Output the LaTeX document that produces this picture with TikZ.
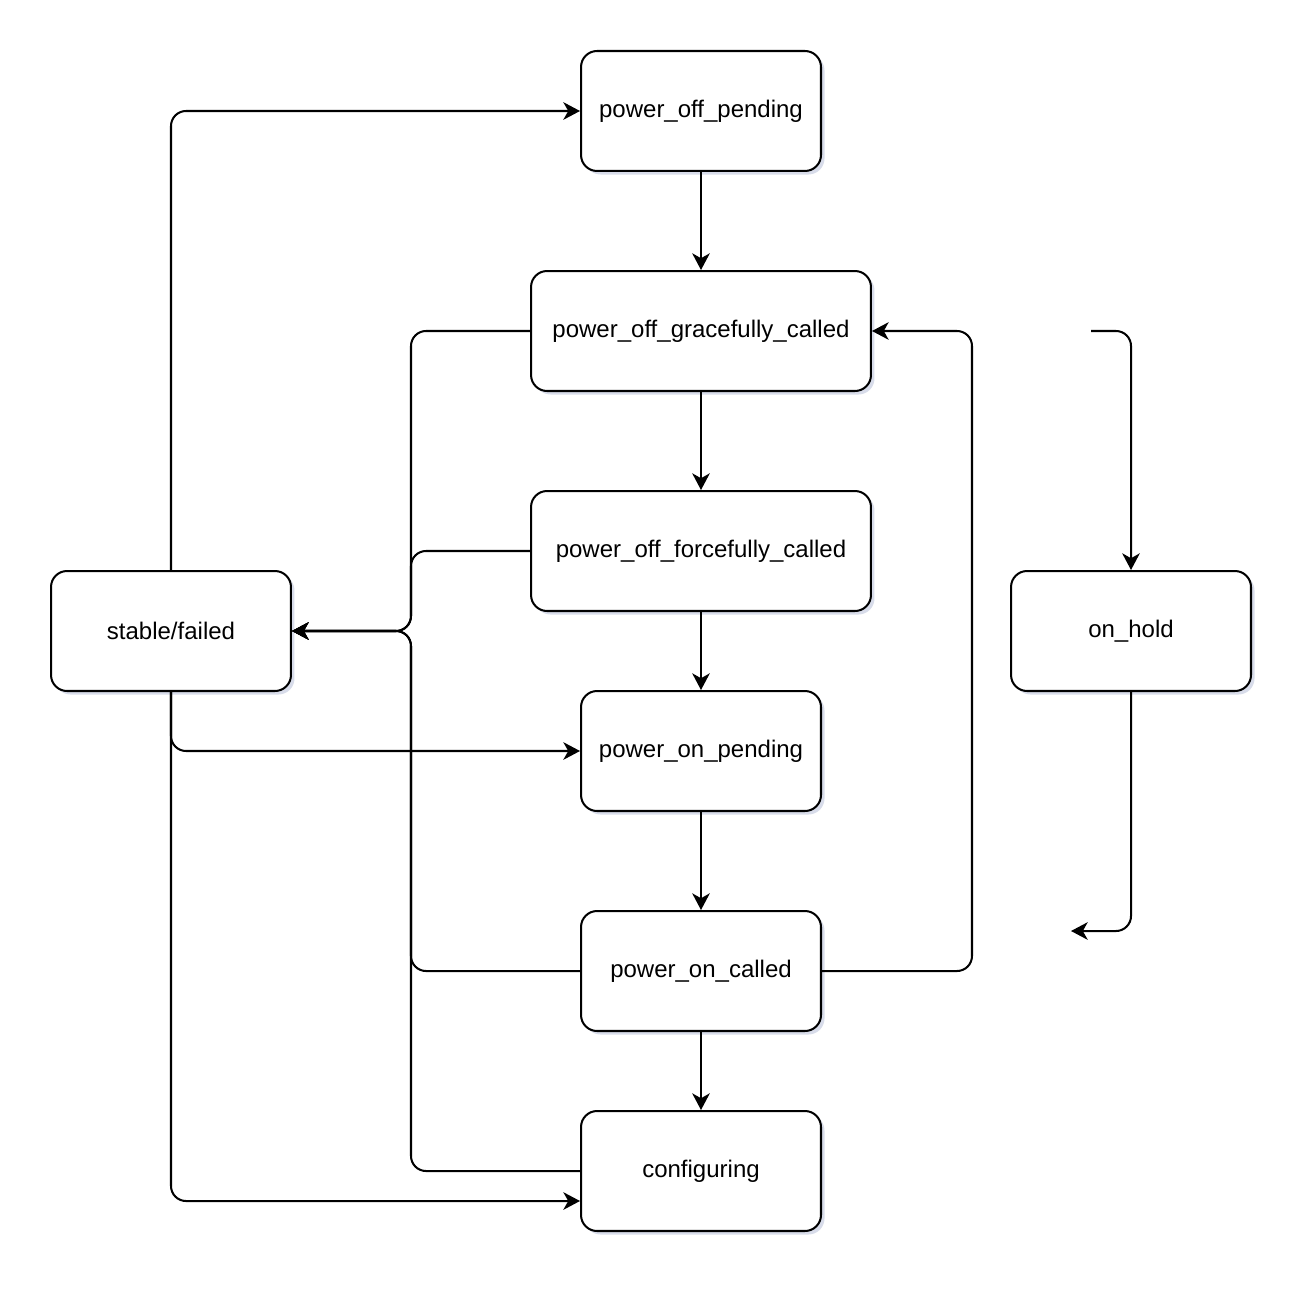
\documentclass[tikz,border=0pt]{standalone}
\usepackage{fontspec}
\setmainfont{Liberation Sans}
\usepackage{tikz}
\usetikzlibrary{arrows.meta, positioning, calc, shadows}
\definecolor{state-line}{HTML}{000000}
\definecolor{state-shadow}{HTML}{B8C0D8}

\begin{document}
\begin{tikzpicture}[x=0.02cm, y=-0.02cm,
    state/.style={draw=state-line, line width=1.15pt, fill=white, rounded corners=0.32cm,
        minimum width=4.8cm, minimum height=2.4cm, inner sep=0pt,
        font=\fontsize{13.66}{16}\selectfont,
        drop shadow={shadow xshift=2pt, shadow yshift=-2pt, fill=state-shadow, opacity=0.55}},
    wide/.style={state, minimum width=6.8cm},
    arr/.style={-{Stealth[length=9.5pt, width=10pt, inset=2.8pt]}, line width=1.15pt,
        draw=state-line, rounded corners=0.3cm}]
    \useasboundingbox (0,0) rectangle (1314,1294);

    % main column of states
    \node[state] (pop)  at (701,111)  {power\_off\_pending};
    \node[wide]  (pogc) at (701,331)  {power\_off\_gracefully\_called};
    \node[wide]  (pofc) at (701,551)  {power\_off\_forcefully\_called};
    \node[state] (ponp) at (701,751)  {power\_on\_pending};
    \node[state] (ponc) at (701,971)  {power\_on\_called};
    \node[state] (conf) at (701,1171) {configuring};

    % side states
    \node[state] (sf) at (171,631)  {stable/failed};
    \node[state] (oh) at (1131,631) {on\_hold};

    % straight chain
    \foreach \from/\to in {pop/pogc, pogc/pofc, pofc/ponp, ponp/ponc, ponc/conf} {
        \draw[arr] (\from.south) -- (\to.north);
    }

    % back to stable/failed
    \coordinate (junc) at (411,631);
    \foreach \from in {pogc, pofc, ponc, conf} {
        \draw[arr] (\from.west) -| (junc) -- (sf.east);
    }

    % out of stable/failed
    \draw[arr] (sf.north) |- (pop.west);
    \draw[arr] (sf.south) |- (ponp.west);
    \draw[arr] (sf.south) |- ($(conf.west)+(0,30)$);

    % retry loop
    \draw[arr] (ponc.east) -- ++(150,0) |- (pogc.east);

    % on_hold in and out
    \coordinate (holdin)  at (1091,331);
    \coordinate (holdout) at (1071,931);
    \draw[arr] (holdin) -| (oh.north);
    \draw[arr] (oh.south) |- (holdout);
\end{tikzpicture}
\end{document}
